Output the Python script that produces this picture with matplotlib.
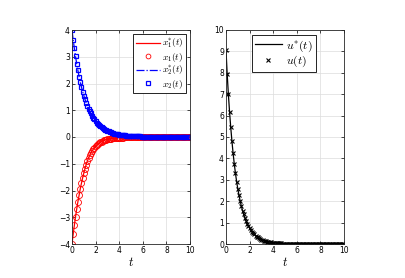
import numpy as np
import matplotlib
matplotlib.use("Agg")
import matplotlib.pyplot as plt

plt.rcParams['mathtext.fontset'] = 'cm'
plt.rcParams['font.family'] = ['DejaVu Sans']

t_step = 0.1
n_pts = 101
t = np.arange(n_pts) * t_step

x1 = [-4.00, -3.64, -3.30, -2.98, -2.69, -2.42, -2.18, -1.94, -1.73, -1.53,
      -1.35, -1.18, -1.03, -0.90, -0.79, -0.69, -0.60, -0.52, -0.46, -0.40,
      -0.35, -0.30, -0.26, -0.23, -0.20, -0.17, -0.15, -0.13, -0.11, -0.10,
      -0.09, -0.08, -0.07, -0.06, -0.05, -0.05, -0.04, -0.04, -0.03, -0.03,
      -0.02, -0.02, -0.02, -0.02, -0.01, -0.01, -0.01, -0.01, -0.01, -0.01,
      -0.01, -0.01, -0.01, -0.01, -0.01, -0.01, -0.01, -0.01, -0.01, -0.01,
      0.00, 0.00, 0.00, 0.00, 0.00, 0.00, 0.00, 0.00, 0.00, 0.00,
      0.00, 0.00, 0.00, 0.00, 0.00, 0.00, 0.00, 0.00, 0.00, 0.00,
      0.00, 0.00, 0.00, 0.00, 0.00, 0.00, 0.00, 0.00, 0.00, 0.00,
      0.00, 0.00, 0.00, 0.00, 0.00, 0.00, 0.00, 0.00, 0.00, 0.00,
      0.00]

x2 = [4.00, 3.64, 3.31, 3.01, 2.74, 2.49, 2.26, 2.06, 1.87, 1.70,
      1.55, 1.41, 1.28, 1.16, 1.06, 0.96, 0.88, 0.80, 0.72, 0.66,
      0.60, 0.54, 0.49, 0.45, 0.41, 0.37, 0.34, 0.31, 0.28, 0.25,
      0.23, 0.21, 0.19, 0.17, 0.16, 0.14, 0.13, 0.12, 0.11, 0.10,
      0.09, 0.08, 0.07, 0.07, 0.06, 0.06, 0.05, 0.05, 0.04, 0.04,
      0.03, 0.03, 0.03, 0.03, 0.02, 0.02, 0.02, 0.02, 0.02, 0.01,
      0.01, 0.01, 0.01, 0.01, 0.01, 0.01, 0.01, 0.01, 0.01, 0.01,
      0.00, 0.00, 0.00, 0.00, 0.00, 0.00, 0.00, 0.00, 0.00, 0.00,
      0.00, 0.00, 0.00, 0.00, 0.00, 0.00, 0.00, 0.00, 0.00, 0.00,
      0.00, 0.00, 0.00, 0.00, 0.00, 0.00, 0.00, 0.00, 0.00, 0.00,
      0.00]

u = [9.05, 7.94, 7.01, 6.18, 5.46, 4.82, 4.25, 3.75, 3.31, 2.92,
     2.58, 2.28, 2.01, 1.77, 1.56, 1.38, 1.22, 1.08, 0.95, 0.84,
     0.74, 0.65, 0.57, 0.51, 0.45, 0.39, 0.35, 0.31, 0.27, 0.24,
     0.21, 0.19, 0.16, 0.15, 0.13, 0.11, 0.10, 0.09, 0.08, 0.07,
     0.06, 0.05, 0.05, 0.04, 0.04, 0.03, 0.03, 0.03, 0.02, 0.02,
     0.02, 0.02, 0.01, 0.01, 0.01, 0.01, 0.01, 0.01, 0.01, 0.00,
     0.00, 0.00, 0.00, 0.00, 0.00, 0.00, 0.00, 0.00, 0.00, 0.00,
     0.00, 0.00, 0.00, 0.00, 0.00, 0.00, 0.00, 0.00, 0.00, 0.00,
     0.00, 0.00, 0.00, 0.00, 0.00, 0.00, 0.00, 0.00, 0.00, 0.00,
     0.00, 0.00, 0.00, 0.00, 0.00, 0.00, 0.00, 0.00, 0.00, 0.00,
     0.00]

x_ticks = [0, 2, 4, 6, 8, 10]
left_yticks = [-4, -3, -2, -1, 0, 1, 2, 3, 4]
right_yticks = [0, 1, 2, 3, 4, 5, 6, 7, 8, 9, 10]

fig = plt.figure(figsize=(4.05, 2.78), dpi=100)
ax1 = fig.add_axes([72/405, 34/278, 118/405, 214/278])
ax2 = fig.add_axes([226/405, 34/278, 118/405, 214/278])

def style(ax):
    ax.grid(True, color='#dcdcdc', linewidth=0.5)
    ax.set_axisbelow(True)
    ax.tick_params(direction='in', top=True, right=True, labelsize=5.5,
                   length=2.5, width=0.5, pad=1.5)
    for s in ax.spines.values():
        s.set_linewidth(0.6)
        s.set_color('#262626')
    ax.set_xlabel('$t$', fontsize=9, labelpad=1)

ax1.plot(t, x1, color='red', lw=0.9, label='$x_1^{*}(t)$')
ax1.plot(t, x1, ls='none', marker='o', ms=4.3, mfc='none', mec='red',
         mew=0.6, label='$x_1(t)$')
ax1.plot(t, x2, color='blue', lw=0.9, ls='-.', label='$x_2^{*}(t)$')
ax1.plot(t, x2, ls='none', marker='s', ms=3.5, mfc='none', mec='blue',
         mew=0.9, label='$x_2(t)$')
ax1.set_xlim(0, 10)
ax1.set_ylim(-4, 4)
ax1.set_xticks(x_ticks)
ax1.set_yticks(left_yticks)
style(ax1)
leg1 = ax1.legend(loc='upper right', fontsize=6.8, fancybox=False,
                  framealpha=1, edgecolor='black', borderpad=0.3,
                  labelspacing=0.02, handlelength=2.6, handletextpad=0.2,
                  bbox_to_anchor=(0.97, 0.981), borderaxespad=0,
                  markerscale=0.8)
leg1.get_frame().set_linewidth(0.6)

ax2.plot(t, u, color='black', lw=0.9, label='$u^{*}(t)$')
ax2.plot(t, u, ls='none', marker='x', ms=3.3, mec='black', mew=0.8,
         label='$u(t)$')
ax2.set_xlim(0, 10)
ax2.set_ylim(0, 10)
ax2.set_xticks(x_ticks)
ax2.set_yticks(right_yticks)
style(ax2)
leg2 = ax2.legend(loc='upper right', fontsize=8.5, fancybox=False,
                  framealpha=1, edgecolor='black', borderpad=0.25,
                  labelspacing=0.05, handlelength=2.3, handletextpad=0.35,
                  bbox_to_anchor=(0.76, 0.975), borderaxespad=0)
leg2.get_frame().set_linewidth(0.6)

fig.savefig('out.png', dpi=100)
